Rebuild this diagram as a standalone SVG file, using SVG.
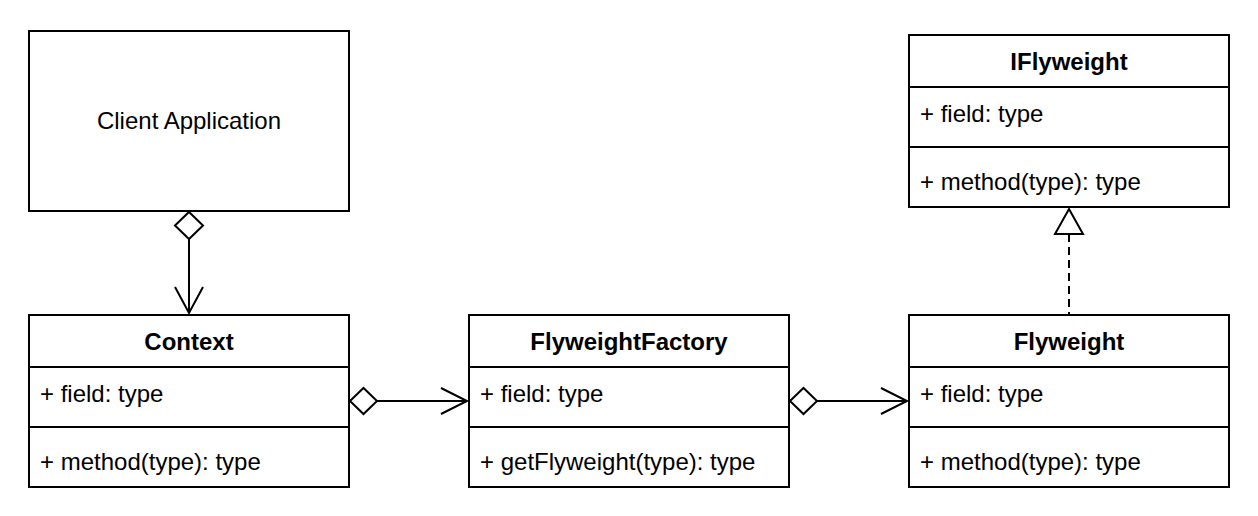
<svg xmlns="http://www.w3.org/2000/svg" width="1258" height="516" viewBox="0 0 1258 516">
<style>
.box{fill:#fff;stroke:#000;stroke-width:2}
.sep{stroke:#000;stroke-width:2;fill:none}
.t{font-family:"Liberation Sans",Arial,Helvetica,sans-serif;font-size:24px;fill:#000}
.b{font-weight:bold;text-anchor:middle}
.c{text-anchor:middle}
.ln{stroke:#000;stroke-width:2;fill:none}
.dia{stroke:#000;stroke-width:2;fill:#fff}
</style>
<rect width="1258" height="516" fill="#fff"/>
<g id="client">
<rect class="box" x="29" y="31" width="320" height="180"/>
<text class="t c" x="189" y="129">Client Application</text>
</g>
<g id="context">
<rect class="box" x="29" y="315" width="320" height="172"/>
<line class="sep" x1="29" y1="367" x2="349" y2="367"/>
<line class="sep" x1="29" y1="427" x2="349" y2="427"/>
<text class="t b" x="189" y="350">Context</text>
<text class="t" x="40" y="402">+ field: type</text>
<text class="t" x="40" y="470">+ method(type): type</text>
</g>
<g id="factory">
<rect class="box" x="469" y="315" width="320" height="172"/>
<line class="sep" x1="469" y1="367" x2="789" y2="367"/>
<line class="sep" x1="469" y1="427" x2="789" y2="427"/>
<text class="t b" x="629" y="350">FlyweightFactory</text>
<text class="t" x="480" y="402">+ field: type</text>
<text class="t" x="480" y="470">+ getFlyweight(type): type</text>
</g>
<g id="flyweight">
<rect class="box" x="909" y="315" width="320" height="172"/>
<line class="sep" x1="909" y1="367" x2="1229" y2="367"/>
<line class="sep" x1="909" y1="427" x2="1229" y2="427"/>
<text class="t b" x="1069" y="350">Flyweight</text>
<text class="t" x="920" y="402">+ field: type</text>
<text class="t" x="920" y="470">+ method(type): type</text>
</g>
<g id="iflyweight">
<rect class="box" x="909" y="35" width="320" height="172"/>
<line class="sep" x1="909" y1="87" x2="1229" y2="87"/>
<line class="sep" x1="909" y1="147" x2="1229" y2="147"/>
<text class="t b" x="1069" y="70">IFlyweight</text>
<text class="t" x="920" y="122">+ field: type</text>
<text class="t" x="920" y="190">+ method(type): type</text>
</g>
<g id="connectors">
<line class="ln" x1="189" y1="239" x2="189" y2="313"/>
<polygon class="dia" points="189,212 203,225.5 189,239 175,225.5"/>
<polyline class="ln" points="175,287 189,313 203,287"/>
<line class="ln" x1="377" y1="401" x2="467" y2="401"/>
<polygon class="dia" points="350,401 363.5,388 377,401 363.5,414"/>
<polyline class="ln" points="441,388 467,401 441,414"/>
<line class="ln" x1="817" y1="401" x2="907" y2="401"/>
<polygon class="dia" points="790,401 803.5,388 817,401 803.5,414"/>
<polyline class="ln" points="881,388 907,401 881,414"/>
<line class="ln" x1="1069" y1="234" x2="1069" y2="314" stroke-dasharray="8 5"/>
<polygon class="dia" points="1069,209 1083,234 1055,234"/>
</g>
</svg>
